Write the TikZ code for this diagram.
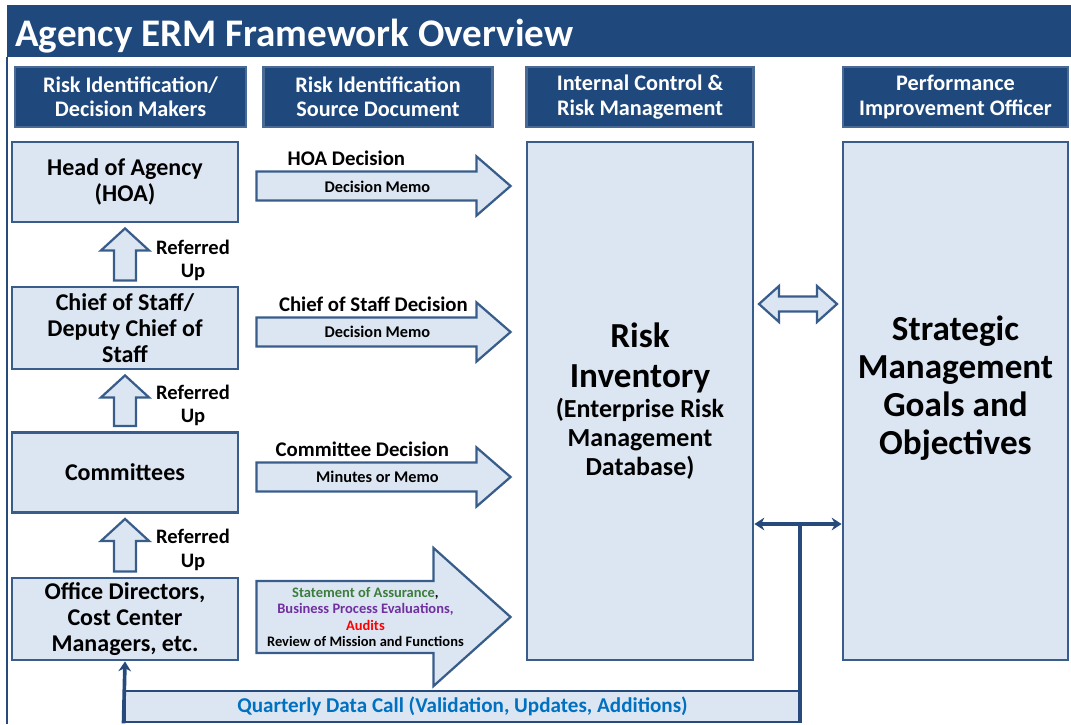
\documentclass[tikz,border=0pt]{standalone}
\usepackage{fontspec}
\setmainfont{Carlito}
\usepackage{tikz}
\usetikzlibrary{calc}
\usetikzlibrary{arrows.meta}

\definecolor{titleblue}{RGB}{31,73,125}
\definecolor{hdrline}{RGB}{74,106,150}
\definecolor{boxfill}{RGB}{220,230,242}
\definecolor{boxline}{RGB}{56,93,138}
\definecolor{linkblue}{RGB}{38,74,124}
\definecolor{qdcblue}{RGB}{0,112,192}
\definecolor{soagreen}{RGB}{60,125,60}
\definecolor{bpepurple}{RGB}{112,48,160}
\definecolor{auditred}{RGB}{255,0,0}

\newcommand{\rblk}[5]{\draw[blk] ($(#1)+(0,#3)$) -- ($(#2)+(-#5,#3)$) -- ($(#2)+(-#5,#4)$) -- (#2) -- ($(#2)+(-#5,-#4)$) -- ($(#2)+(-#5,-#3)$) -- ($(#1)+(0,-#3)$) -- cycle;}
\newcommand{\ublk}[5]{\draw[blk] ($(#1)+(#3,0)$) -- ($(#2)+(#3,#5)$) -- ($(#2)+(#4,#5)$) -- (#2) -- ($(#2)+(-#4,#5)$) -- ($(#2)+(-#3,#5)$) -- ($(#1)+(-#3,0)$) -- cycle;}
\newcommand{\dblk}[5]{\draw[blk] ($(#1)+(-#2,0)$) -- ($(#1)+(-#2+#5,-#4)$) -- ($(#1)+(-#2+#5,-#3)$) -- ($(#1)+(#2-#5,-#3)$) -- ($(#1)+(#2-#5,-#4)$) -- ($(#1)+(#2,0)$) -- ($(#1)+(#2-#5,#4)$) -- ($(#1)+(#2-#5,#3)$) -- ($(#1)+(-#2+#5,#3)$) -- ($(#1)+(-#2+#5,#4)$) -- cycle;}
\newcommand{\subsz}{\fontsize{18.5}{20.6}\selectfont}

\begin{document}
\begin{tikzpicture}[x=0.025cm, y=-0.025cm,
	hdr/.style={draw=hdrline, line width=1.5pt, fill=titleblue, text=white, align=center, font=\bfseries\fontsize{15.8}{17.4}\selectfont, minimum height=1.5cm, inner sep=0pt},
	who/.style={draw=boxline, line width=2pt, fill=boxfill, align=center, font=\bfseries\fontsize{17.1}{18.5}\selectfont, minimum width=5.65cm, minimum height=2cm, inner sep=0pt},
	bigbox/.style={draw=boxline, line width=2pt, fill=boxfill, align=center, minimum height=12.95cm, inner sep=0pt},
	blk/.style={draw=boxline, line width=1.6pt, fill=boxfill},
	refd/.style={align=center, font=\bfseries\fontsize{14.6}{16.4}\selectfont},
	lbl/.style={font=\bfseries\fontsize{14.8}{16}\selectfont},
	memo/.style={font=\bfseries\fontsize{11.6}{13}\selectfont},
	conn/.style={draw=linkblue, line width=2.6pt}]
	\useasboundingbox (0,0) rectangle (1071,724);

	\fill[titleblue] (7,5) rectangle (1071,57);
	\node[anchor=base west, text=white, font=\bfseries\fontsize{27.8}{30}\selectfont, inner sep=0pt] (title) at (15,46) {Agency ERM Framework Overview};
	\draw[linkblue, line width=1.4pt] (7,57) -- (7,724);

	\node[hdr, minimum width=5.775cm] (h1) at (130.5,97) {Risk Identification/\\Decision Makers};
	\node[hdr, minimum width=5.725cm] (h2) at (378,97) {Risk Identification\\Source Document};
	\node[hdr, minimum width=5.675cm] (h3) at (640,97) {Internal Control \&\\Risk Management};
	\node[hdr, minimum width=5.625cm] (h4) at (955.5,97) {Performance\\Improvement Officer};

	\node[who] (hoa) at (125,182) {Head of Agency\\(HOA)};
	\node[who, minimum height=2.05cm] (cos) at (125,328) {Chief of Staff/\\Deputy Chief of\\Staff};
	\node[who] (com) at (125,472.5) {Committees};
	\node[who, minimum height=2.05cm] (odir) at (125,619) {Office Directors,\\Cost Center\\Managers, etc.};

	\node[bigbox, minimum width=5.65cm, font=\bfseries\fontsize{25}{28.5}\selectfont] (risk) at (640,401) {Risk\\Inventory\\[-7.3pt]\subsz (Enterprise Risk\\[-7.9pt]\subsz Management\\[-7.9pt]\subsz Database)};
	\node[bigbox, minimum width=5.625cm] (strat) at (955.5,401) {};
	\node[align=center, font=\bfseries\fontsize{25}{27}\selectfont] (strattext) at ($(strat.center)+(0,-13)$) {Strategic\\Management\\Goals and\\Objectives};

	\ublk{$(cos.north)+(0,-5)$}{$(hoa.south)+(0,5)$}{11}{24}{22}
	\ublk{$(com.north)+(0,-5)$}{$(cos.south)+(0,5)$}{11}{24}{22}
	\ublk{$(odir.north)+(0,-5)$}{$(com.south)+(0,5)$}{11}{24}{22}
	\node[refd] (ref1) at ($(hoa.south)+(68,37)$) {Referred\\Up};
	\node[refd] (ref2) at ($(cos.south)+(68,35)$) {Referred\\Up};
	\node[refd] (ref3) at ($(com.south)+(68,36)$) {Referred\\Up};

	\coordinate (a1s) at ($(hoa.east)+(17,4)$);
	\coordinate (a1t) at ($(risk.west |- a1s)+(-15,0)$);
	\coordinate (a2s) at ($(cos.east)+(17,4)$);
	\coordinate (a2t) at ($(risk.west |- a2s)+(-15,0)$);
	\coordinate (a3s) at ($(com.east)+(17,4.5)$);
	\coordinate (a3t) at ($(risk.west |- a3s)+(-15,0)$);
	\coordinate (a4s) at ($(odir.east)+(17,-2)$);
	\coordinate (a4t) at ($(risk.west |- a4s)+(-15,0)$);
	\rblk{a1s}{a1t}{14.5}{29.5}{34}
	\rblk{a2s}{a2t}{14.5}{29.5}{34}
	\rblk{a3s}{a3t}{14.5}{29.5}{34}
	\rblk{a4s}{a4t}{36}{69}{77}

	\node[lbl] (d1) at ($(a1s)+(90,-28)$) {HOA Decision};
	\node[lbl] (d2) at ($(a2s)+(117,-28)$) {Chief of Staff Decision};
	\node[lbl] (d3) at ($(a3s)+(106,-28)$) {Committee Decision};
	\node[memo] (m1) at ($(a1s)+(121,1)$) {Decision Memo};
	\node[memo] (m2) at ($(a2s)+(121,0)$) {Decision Memo};
	\node[memo] (m3) at ($(a3s)+(121,0)$) {Minutes or Memo};
	\node[align=center, font=\bfseries\fontsize{10.3}{11.6}\selectfont] (m4) at ($(a4s)+(109,0)$) {{\color{soagreen}Statement of Assurance},\\{\color{bpepurple}Business Process Evaluations,}\\{\color{auditred}Audits}\\Review of Mission and Functions};

	\coordinate (dbl) at ($(risk.east)!0.5!(strat.west)+(0,-97)$);
	\dblk{dbl}{39}{7.5}{18}{20}

	\node[draw=linkblue, line width=2pt, fill=boxfill, minimum width=16.875cm, minimum height=0.775cm, inner sep=0pt, text=qdcblue, font=\bfseries\fontsize{15}{16}\selectfont] (qdc) at (462.5,706.5) {Quarterly Data Call (Validation, Updates, Additions)};

	\coordinate (lk) at ($(risk.east)!0.5!(strat.west)+(2,123)$);
	\draw[conn, {Stealth[length=7pt,width=9pt]}-{Stealth[length=7pt,width=9pt]}] (risk.east |- lk) -- (strat.west |- lk);
	\draw[conn] (lk) -- (lk |- qdc.south);
	\draw[conn, -{Stealth[length=7pt,width=9pt]}] (qdc.south west) -- (odir.south);
\end{tikzpicture}
\end{document}
